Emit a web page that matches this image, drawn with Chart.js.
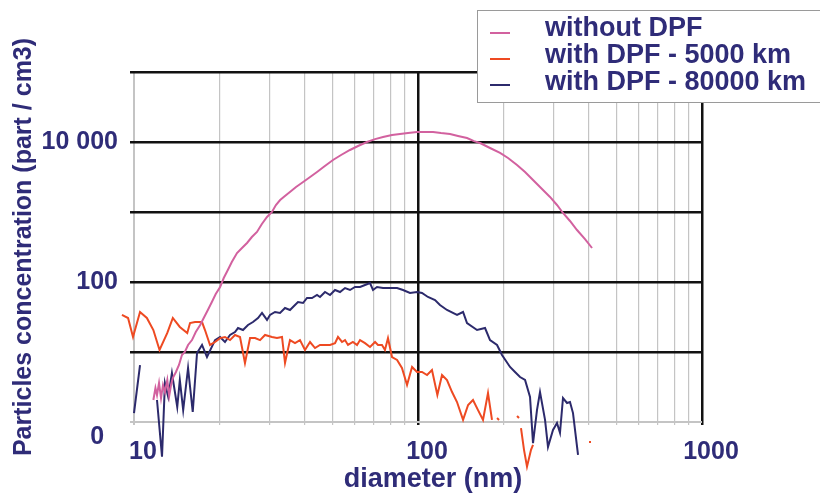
<!DOCTYPE html>
<html>
<head>
<meta charset="utf-8">
<script src="https://cdn.jsdelivr.net/npm/chart.js@4.4.1/dist/chart.umd.min.js"></script>
<style>
  html, body { margin: 0; padding: 0; background: #ffffff; }
  #wrap { width: 820px; height: 498px; position: relative; }
  canvas { display: block; }
</style>
</head>
<body>
<div id="wrap"><canvas id="c" width="820" height="498"></canvas></div>
<script>
// ---- data ----
const seriesLabels = ['without DPF', 'with DPF - 5000 km', 'with DPF - 80000 km'];

const pinkD = [11.7,11.9,12.05,12.25,12.45,12.65,12.85,13.1,13.3,13.5,13.7,14.05,14.4,14.75,15.1,15.5,16.0,16.5,17.1,17.6,18.2,18.8,19.4,20.1,20.7,21.4,22.1,23.05,24.0,25.0,26.0,27.1,28.2,29.4,30.6,31.6,32.7,34.0,35.4,37.2,39.4,41.7,44.1,47.0,50.2,53.6,57.6,61.5,66.1,70.6,75.3,81.0,86.4,92.2,99.2,105.8,113,120.5,129.7,138.3,148.8,157.5,165.4,179.3,194.5,207.5,223.2,238.2,254.1,271.1,291.6,308.6,324.0,342.9,363.0,387.3,410.0];
const pinkV = [2.06,3.06,2.43,3.61,2.20,3.38,2.68,3.98,2.35,3.38,4.25,5.18,6.52,9.06,10,12.6,14.8,19.3,24.3,30.6,39.8,51.8,67.4,84.8,114,148,193,259,306,361,439,518,674,848,1000,1260,1480,1690,1930,2280,2680,3160,3730,4540,5530,6520,7690,8770,10000,11000,11800,12600,13000,13400,13900,13900,13900,13400,13000,12200,11400,10300,9680,8210,6970,5910,4690,3730,2860,2200,1640,1260,968,744,553,411,306];

const orangeD = [9.07,9.53,9.92,10.5,11.1,11.7,12.3,13.1,13.7,14.5,15.4,15.75,16.4,17.36,17.78,18.52,19.29,20.09,20.91,21.78,22.68,23.62,24.59,25.62,26.68,27.78,28.93,30.61,31.88,33.20,34.02,35.42,36.89,38.41,40.0,41.67,43.39,45.18,47.05,49.0,51.03,52.27,54.0,55.34,56.69,59.0,61.0,62.5,65.08,67.77,70.6,72.31,74.68,76.5,78.4,81.0,84.4,87.8,91.5,95.3,99.2,103.3,107.6,112,117,121.5,126.5,131.8,137.2,144.1,150.1,156.2,162.7,169.4,176.4,182.2,186,189.8,192.9,210,223.2,226.8,228.5,230.5,236.2,242.0,250.0,254.1,300,400.1,406.6];
const orangeV = [33.8,30.6,16.4,37.3,30.6,20.6,10.7,18.7,30.6,22.8,18.7,25.9,26.8,26.8,20.6,12.6,13.9,15.8,16.4,14.8,17.5,16.4,6.97,15.8,15.8,14.8,17.5,16.4,15.8,16.4,6.97,14.8,13.4,14.8,10.7,13.9,11.4,12.6,12.6,12.6,13.4,16.4,13.9,14.8,12.6,13.9,12.6,14.8,13.4,11.8,13.9,12.6,12.6,10.7,15.8,8.48,7.69,5.91,3.38,6.11,5.18,5.18,4.69,5.53,2.43,4.69,3.98,2.68,1.93,1.07,1.75,2.06,1.48,1.07,2.59,1.07,null,1.14,1.07,null,1.22,1.14,null,0.82,0.40,0.23,0.40,0.47,null,0.52,0.52];

const blueD = [10,10.5,11.3,12.05,12.55,12.85,13.2,13.6,14.2,14.5,14.9,15.5,16.1,16.67,17.36,18.07,19.29,20.09,20.91,21.78,22.68,23.24,24.20,25.20,26.24,27.33,28.23,29.40,30.12,31.37,32.67,34.02,35.42,36.89,37.80,39.37,40.66,42.34,44.10,45.18,47.05,49.0,51.03,53.14,55.34,57.63,60.01,62.5,65.08,67.77,69.43,71.72,75.31,79.7,84.4,88.56,93.72,99.2,103.3,108.4,114.8,119.5,126.5,137.2,144.1,148.8,161.4,172.2,179.3,189.8,197.6,210.9,219.6,228.7,238.2,248.0,254.1,262.4,268.9,280.1,286.9,298.8,308.6,316.2,324.0,334.7,342.9,351.4,366.0];
const blueV = [1.34,6.52,null,2.06,0.32,3.61,2.28,5.01,1.64,3.98,1.48,5.91,1.39,9.68,12.6,8.48,14.8,16.4,13.9,17.5,19.3,22.0,20.6,24.3,26.8,30.6,36.1,28.7,33.8,37.3,36.1,42.5,39.8,46.9,51.8,50.1,59.1,59.1,65.2,61.1,72.0,65.2,76.9,72.0,82.0,76.9,84.8,84.8,90.6,96.8,76.9,84.8,82.0,82.0,82.0,76.9,69.7,72.0,69.7,61.1,55.3,46.9,39.8,33.8,37.3,25.9,20.6,22.0,14.8,12.6,9.06,6.11,5.18,4.39,3.98,2.28,0.50,1.48,2.68,1.07,0.44,0.77,0.97,0.70,2.20,1.87,1.93,1.34,0.34];

const xRange = [10, 1000];
const xTicks = [10,20,30,40,50,60,70,80,90,100,200,300,400,500,600,700,800,900,1000];
const xTickLabels = {10: '10', 100: '100', 1000: '1000'};
const yRange = [1, 100000];
const yTicks = [1,10,100,1000,10000,100000];
const yTickLabels = {1: ['', '0  '], 100: '100', 10000: '10 000'};
const xTitle = '    diameter (nm)';
const yTitle = 'Particles concentration (part / cm3)';

// ---- styling ----
const NAVY = '#2f2c78';
const colors = ['#d2619f', '#ee4a22', '#2c2a6c'];
const FONT = "'Liberation Sans', Arial, sans-serif";

function pts(d, v) { return d.map((x, i) => ({x: x, y: v[i]})); }

const legendBox = {
  id: 'legendBox',
  afterDraw(chart) {
    const ctx = chart.ctx;
    ctx.save();
    ctx.fillStyle = '#ffffff';
    ctx.strokeStyle = '#9a9a9a';
    ctx.lineWidth = 1;
    ctx.fillRect(477.5, 10.5, 360, 92);
    ctx.strokeRect(477.5, 10.5, 360, 92);
    const rowsText = [29, 56, 83];
    const rowsMark = [33, 59, 85];
    chart.data.datasets.forEach((ds, i) => {
      ctx.strokeStyle = ds.borderColor;
      ctx.lineWidth = 2;
      ctx.beginPath();
      ctx.moveTo(490, rowsMark[i]);
      ctx.lineTo(510, rowsMark[i]);
      ctx.stroke();
      ctx.fillStyle = NAVY;
      ctx.font = 'bold 27px ' + FONT;
      ctx.textBaseline = 'middle';
      ctx.textAlign = 'left';
      ctx.fillText(ds.label, 545, rowsText[i]);
    });
    ctx.restore();
  }
};

const isMajorX = c => c.tick && (c.tick.value === 100 || c.tick.value === 1000);

new Chart(document.getElementById('c'), {
  type: 'line',
  data: {
    datasets: [
      {label: seriesLabels[0], data: pts(pinkD, pinkV), borderColor: colors[0]},
      {label: seriesLabels[1], data: pts(orangeD, orangeV), borderColor: colors[1]},
      {label: seriesLabels[2], data: pts(blueD, blueV), borderColor: colors[2]}
    ].map(ds => Object.assign(ds, {
      borderWidth: 2, pointRadius: 0, tension: 0, spanGaps: false, clip: false, fill: false
    }))
  },
  options: {
    responsive: false,
    animation: false,
    devicePixelRatio: 1,
    layout: {padding: {top: 72, right: 118, left: 0, bottom: 0}},
    plugins: {legend: {display: false}, tooltip: {enabled: false}},
    scales: {
      x: {
        type: 'logarithmic',
        bounds: 'data',
        afterDataLimits: s => { s.min = xRange[0]; s.max = xRange[1]; },
        afterBuildTicks: s => { s.ticks = xTicks.map(v => ({value: v})); },
        afterFit: s => { s.height = 76; },
        border: {display: false},
        grid: {
          color: c => isMajorX(c) ? '#111111' : '#c4c4c4',
          lineWidth: c => isMajorX(c) ? 2.5 : (c.tick && c.tick.value === 10 ? 2 : 1.2),
          tickLength: 3
        },
        ticks: {
          autoSkip: false, maxRotation: 0, padding: 12, labelOffset: 9,
          color: NAVY, font: {family: FONT, size: 25, weight: 'bold'},
          callback: v => xTickLabels[v] || ''
        },
        title: {
          display: true, text: xTitle, color: NAVY,
          font: {family: FONT, size: 27, weight: 'bold'}, padding: {top: 0, bottom: 2}
        }
      },
      y: {
        type: 'logarithmic',
        bounds: 'data',
        afterDataLimits: s => { s.min = yRange[0]; s.max = yRange[1]; },
        afterBuildTicks: s => { s.ticks = yTicks.map(v => ({value: v})); },
        afterFit: s => { s.width = 134; },
        border: {display: false},
        grid: {
          color: c => (c.tick && c.tick.value === 1) ? '#c4c4c4' : '#111111',
          lineWidth: c => (c.tick && c.tick.value === 1) ? 2 : 2.5,
          tickLength: 4
        },
        ticks: {
          autoSkip: false, padding: 12,
          color: NAVY, font: {family: FONT, size: 25, weight: 'bold'},
          callback: v => yTickLabels[v] || ''
        },
        title: {
          display: true, text: yTitle, color: NAVY,
          font: {family: FONT, size: 25, weight: 'bold'}, padding: {top: 9, bottom: 0}
        }
      }
    }
  },
  plugins: [legendBox]
});
</script>
</body>
</html>
